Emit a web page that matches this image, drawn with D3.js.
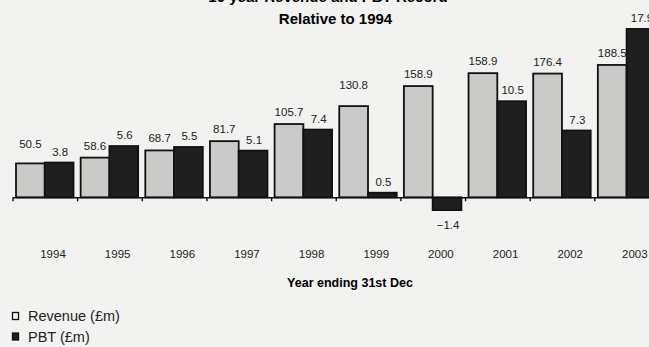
<!DOCTYPE html>
<html>
<head>
<meta charset="utf-8">
<script src="https://cdn.jsdelivr.net/npm/d3@7"></script>
<style>
  body { margin: 0; background: #f2f2f0; }
  svg { display: block; font-family: "Liberation Sans", Arial, sans-serif; }
</style>
</head>
<body>
<script>
var years = ["1994", "1995", "1996", "1997", "1998", "1999", "2000", "2001", "2002", "2003"];
// bar heights
var revenue = [50.5, 58.6, 68.7, 81.7, 105.7, 130.8, 158.9, 177.0, 176.4, 188.5];
var pbt = [3.8, 5.6, 5.5, 5.1, 7.4, 0.5, -1.4, 10.5, 7.3, 18.4];
// printed labels
var revenueLabels = ["50.5", "58.6", "68.7", "81.7", "105.7", "130.8", "158.9", "158.9", "176.4", "188.5"];
var pbtLabels = ["3.8", "5.6", "5.5", "5.1", "7.4", "0.5", "\u22121.4", "10.5", "7.3", "17.9"];
var series = ["Revenue (\u00a3m)", "PBT (\u00a3m)"];

var width = 649, height = 347,
    baseY = 197.3,
    left = 12.5, step = 64.65;

// labels that sit a little higher than the rest
var revLift = {0: 7, 5: 9};

var svg = d3.select("body")
            .append("svg")
            .attr('width', width)
            .attr('height', height);

var xScale = d3.scaleBand()
               .domain(years)
               .range([left, left + step * years.length])
               .padding(0);

var inner = d3.scaleBand()
              .domain(["rev", "pbt"])
              .range([3.5, 61]);

var yRev = d3.scaleLinear()
             .domain([3, 203])
             .range([baseY, baseY - 142.7]);

var yPbt = d3.scaleLinear()
             .domain([0, 20])
             .range([baseY, baseY - 183]);

// titles (top line is cropped in the original scan)
svg.append("text")
   .attr('x', 328).attr('y', 1.5)
   .attr('text-anchor', "middle")
   .style('font-size', "15px").style('font-weight', "bold")
   .text("10 year Revenue and PBT Record");

svg.append("text")
   .attr('x', 335.5).attr('y', 24)
   .attr('text-anchor', "middle")
   .style('font-size', "15px").style('font-weight', "bold")
   .text("Relative to 1994");

var groups = svg.selectAll("g.year")
   .data(years)
   .enter()
   .append("g")
   .attr('class', "year")
   .attr('transform', function(d){ return "translate(" + xScale(d) + ",0)"; });

groups.append("rect")
   .attr('x', inner("rev"))
   .attr('y', function(d,i){ return yRev(revenue[i]); })
   .attr('width', inner.bandwidth())
   .attr('height', function(d,i){ return baseY - yRev(revenue[i]); })
   .attr('fill', "#cacac8")
   .attr('stroke', "#111")
   .attr('stroke-width', 1.8);

groups.append("rect")
   .attr('x', inner("pbt"))
   .attr('y', function(d,i){ return Math.min(yPbt(pbt[i]), baseY); })
   .attr('width', inner.bandwidth())
   .attr('height', function(d,i){ return Math.abs(baseY - yPbt(pbt[i])); })
   .attr('fill', "#1f1f1f")
   .attr('stroke', "#111")
   .attr('stroke-width', 1.8);

groups.append("text")
   .attr('x', inner("rev") + inner.bandwidth() / 2)
   .attr('y', function(d,i){ return yRev(revenue[i]) - 8 - (revLift[i] || 0); })
   .attr('text-anchor', "middle")
   .style('font-size', "11.5px")
   .attr('fill', "#222")
   .text(function(d,i){ return revenueLabels[i]; });

groups.append("text")
   .attr('x', inner("pbt") + inner.bandwidth() / 2 + 1)
   .attr('y', function(d,i){ return pbt[i] < 0 ? yPbt(pbt[i]) + 19 : yPbt(pbt[i]) - 7; })
   .attr('text-anchor', "middle")
   .style('font-size', "11.5px")
   .attr('fill', "#222")
   .text(function(d,i){ return pbtLabels[i]; });

// axis with ticks on the group edges
var edge = d3.scaleLinear()
             .domain([0, years.length])
             .range([left, left + step * years.length]);

svg.append("g")
   .attr('transform', "translate(0," + baseY + ")")
   .call(d3.axisBottom(edge).ticks(years.length).tickSize(4).tickSizeOuter(0).tickFormat(""))
   .call(function(g){ g.selectAll("path, line").attr('stroke', "#111").attr('stroke-width', 1.4); });

svg.selectAll("text.yearLabel")
   .data(years)
   .enter()
   .append("text")
   .attr('class', "yearLabel")
   .attr('x', function(d){ return xScale(d) + 40.5; })
   .attr('y', 258)
   .attr('text-anchor', "middle")
   .style('font-size', "11.5px")
   .attr('fill', "#222")
   .text(function(d){ return d; });

svg.append("text")
   .attr('x', 350).attr('y', 287)
   .attr('text-anchor', "middle")
   .style('font-size', "12.5px").style('font-weight', "bold")
   .text("Year ending 31st Dec");

// legend
var legend = svg.selectAll("g.legend")
   .data(series)
   .enter()
   .append("g")
   .attr('class', "legend")
   .attr('transform', function(d,i){ return "translate(12," + (310 + i * 20.5) + ")"; });

legend.append("rect")
   .attr('x', 0.5).attr('y', 2.5)
   .attr('width', 6).attr('height', 7)
   .attr('fill', function(d,i){ return i === 0 ? "#f2f2f0" : "#1f1f1f"; })
   .attr('stroke', "#111")
   .attr('stroke-width', 1.3);

legend.append("text")
   .attr('x', 16).attr('y', 11)
   .style('font-size', "14.5px")
   .attr('fill', "#222")
   .text(function(d){ return d; });
</script>
</body>
</html>
